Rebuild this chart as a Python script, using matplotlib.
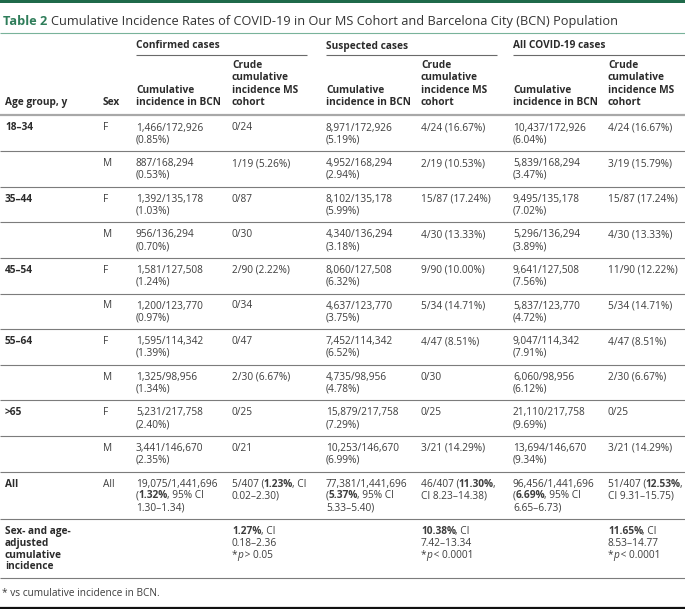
import re
import matplotlib
matplotlib.use("Agg")
import matplotlib.pyplot as plt
from matplotlib import font_manager
from matplotlib.ft2font import FT2Font

plt.rcParams['font.family'] = ['Open Sans', 'DejaVu Sans']

# ---- table values ----
age_groups = ["18–34", "35–44", "45–54", "55–64", ">65"]
sexes = ["F", "M"]
population = [172926, 168294, 135178, 136294, 127508, 123770, 114342, 98956, 217758, 146670]
ms_cohort = [24, 19, 87, 30, 90, 34, 47, 30, 25, 21]

conf_bcn = [1466, 887, 1392, 956, 1581, 1200, 1595, 1325, 5231, 3441]
conf_bcn_pct = ["0.85", "0.53", "1.03", "0.70", "1.24", "0.97", "1.39", "1.34", "2.40", "2.35"]
conf_ms = [0, 1, 0, 0, 2, 0, 0, 2, 0, 0]
conf_ms_pct = [None, "5.26", None, None, "2.22", None, None, "6.67", None, None]

susp_bcn = [8971, 4952, 8102, 4340, 8060, 4637, 7452, 4735, 15879, 10253]
susp_bcn_pct = ["5.19", "2.94", "5.99", "3.18", "6.32", "3.75", "6.52", "4.78", "7.29", "6.99"]
susp_ms = [4, 2, 15, 4, 9, 5, 4, 0, 0, 3]
susp_ms_pct = ["16.67", "10.53", "17.24", "13.33", "10.00", "14.71", "8.51", None, None, "14.29"]

all_bcn = [10437, 5839, 9495, 5296, 9641, 5837, 9047, 6060, 21110, 13694]
all_bcn_pct = ["6.04", "3.47", "7.02", "3.89", "7.56", "4.72", "7.91", "6.12", "9.69", "9.34"]
all_ms = [4, 3, 15, 4, 11, 5, 4, 2, 0, 3]
all_ms_pct = ["16.67", "15.79", "17.24", "13.33", "12.22", "14.71", "8.51", "6.67", None, "14.29"]

total_row = [
    "19,075/1,441,696\n(<b>1.32%</b>, 95% CI\n1.30–1.34)",
    "5/407 (<b>1.23%</b>, CI\n0.02–2.30)",
    "77,381/1,441,696\n(<b>5.37%</b>, 95% CI\n5.33–5.40)",
    "46/407 (<b>11.30%</b>,\nCI 8.23–14.38)",
    "96,456/1,441,696\n(<b>6.69%</b>, 95% CI\n6.65–6.73)",
    "51/407 (<b>12.53%</b>,\nCI 9.31–15.75)",
]
adjusted_row = [
    "", "<b>1.27%</b>, CI\n0.18–2.36\n*<i>p</i> > 0.05",
    "", "<b>10.38%</b>, CI\n7.42–13.34\n*<i>p</i> < 0.0001",
    "", "<b>11.65%</b>, CI\n8.53–14.77\n*<i>p</i> < 0.0001",
]

title = "Cumulative Incidence Rates of COVID-19 in Our MS Cohort and Barcelona City (BCN) Population"
groups = ["Confirmed cases", "Suspected cases", "All COVID-19 cases"]
sub_headers = ["Cumulative\nincidence in BCN", "Crude\ncumulative\nincidence MS\ncohort"]
footnote = "* vs cumulative incidence in BCN."


def bcn_cell(n, pop, pct):
    return f"{n:,}/{pop:,}\n({pct}%)"


def ms_cell(k, n, pct):
    return f"{k}/{n}" if pct is None else f"{k}/{n} ({pct}%)"


# ---- layout (pixel coordinates, y downward) ----
W, H = 685, 609
DPI = 100
fig = plt.figure(figsize=(W / DPI, H / DPI), dpi=DPI)
ax = fig.add_axes([0, 0, 1, 1])
ax.set_xlim(0, W)
ax.set_ylim(H, 0)
ax.axis("off")

FS = 7.3
LS = 11.8
TXT = "#3d3d3d"
HDR = "#2b2b2b"
GREEN = "#2f7d5a"
col_x = [5, 103, 136, 232, 326, 421, 513, 608]

_fonts = {}


def advance(s, size, weight, style):
    # pen advance in pixels, so mixed-style runs join without gaps
    key = (weight, style)
    if key not in _fonts:
        path = font_manager.findfont(font_manager.FontProperties(
            family="Open Sans", weight=weight, style=style))
        _fonts[key] = FT2Font(path)
    f = _fonts[key]
    f.set_size(size, DPI)
    return sum(f.load_char(ord(c)).linearHoriAdvance / 65536 for c in s)


def rich(x, y, text, size=FS, color=TXT, bold=False, ls=LS):
    for i, line in enumerate(text.split("\n")):
        cx = x
        for seg in re.split(r"(<b>.*?</b>|<i>.*?</i>)", line):
            if not seg:
                continue
            w, st = ("bold" if bold else "normal"), "normal"
            if seg.startswith("<b>"):
                seg, w = seg[3:-4], "bold"
            elif seg.startswith("<i>"):
                seg, st = seg[3:-4], "italic"
            if cx > x:
                cx -= 0.8  # tighten the join between runs
            ax.text(cx, y + i * ls, seg, fontsize=size, color=color,
                    fontweight=w, fontstyle=st, va="baseline", ha="left")
            cx += advance(seg, size, w, st)


def hline(y, x0=0, x1=W, color="#7c7c7c", lw=0.8):
    ax.plot([x0, x1], [y, y], color=color, lw=lw, solid_capstyle="butt")


# top bar + title
ax.add_patch(plt.Rectangle((0, 0), W, 2.6, color="#1f6a4a", lw=0))
TS = 9.2
ax.text(3, 25, "Table 2", fontsize=TS, color=GREEN, fontweight="bold", va="baseline")
ax.text(3 + advance("Table 2 ", TS, "bold", "normal"), 25, title,
        fontsize=TS, color="#333333", va="baseline")
hline(33, color="#79b39a", lw=0.8)

# group headers
spans = [(col_x[2], 307), (col_x[4], 497), (col_x[6], W)]
for g, (x0, x1) in zip(groups, spans):
    rich(x0, 48.5, g, color=HDR, bold=True)
    hline(55, x0, x1, color="#6a6a6a", lw=0.8)

# column headers (bottom aligned)
base = 105
rich(col_x[0], base, "Age group, y", color=HDR, bold=True)
rich(col_x[1], base, "Sex", color=HDR, bold=True)
for k in range(6):
    h = sub_headers[k % 2]
    n = h.count("\n")
    rich(col_x[2 + k], base - n * 12.3, h, color=HDR, bold=True, ls=12.3)
hline(114.5, color="#a8a8a8", lw=1.6)

# body rows
rows = []
for i in range(len(population)):
    age = age_groups[i // 2] if i % 2 == 0 else ""
    cells = [
        bcn_cell(conf_bcn[i], population[i], conf_bcn_pct[i]),
        ms_cell(conf_ms[i], ms_cohort[i], conf_ms_pct[i]),
        bcn_cell(susp_bcn[i], population[i], susp_bcn_pct[i]),
        ms_cell(susp_ms[i], ms_cohort[i], susp_ms_pct[i]),
        bcn_cell(all_bcn[i], population[i], all_bcn_pct[i]),
        ms_cell(all_ms[i], ms_cohort[i], all_ms_pct[i]),
    ]
    rows.append((age, sexes[i % 2], cells))
rows.append(("All", "All", total_row))
rows.append(("Sex- and age-\nadjusted\ncumulative\nincidence", "", adjusted_row))

top = 115.5
for age, sex, cells in rows:
    nlines = max(c.count("\n") + 1 for c in [age] + cells)
    y0 = top + 15
    rich(col_x[0], y0, age, color=HDR, bold=True)
    rich(col_x[1], y0, sex)
    for k, c in enumerate(cells):
        rich(col_x[2 + k], y0, c)
    top = top + 12 + LS * nlines
    hline(top)

# footnote + bottom rule
rich(col_x[0] - 3, 596.5, footnote)
hline(607.5, color="#111111", lw=1.6)

fig.savefig("out.png", dpi=DPI)
